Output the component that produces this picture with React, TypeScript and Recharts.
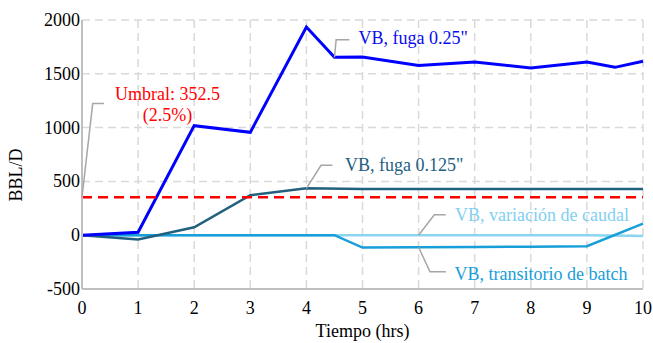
import { LineChart, Line, XAxis, YAxis, CartesianGrid, ReferenceLine, ReferenceDot } from "recharts"

// Hours since start (some series have half-hour points)
const hours = [0, 1, 2, 3, 4, 5, 6, 7, 8, 9, 10]
const fuga025Hours = [0, 1, 2, 3, 4, 4.5, 5, 6, 7, 8, 9, 9.5, 10]
const batchHours = [0, 4.5, 5, 6, 7, 8, 9, 10]

// Volume balance, BBL/D
const fuga025 = [0, 28, 1018, 956, 1935, 1653, 1656, 1578, 1610, 1554, 1610, 1560, 1616]
const fuga0125 = [0, -40, 74, 371, 436, 430, 430, 430, 430, 430, 430]
const caudal = [0, 0, 0, 0, 0, 0, 0, 0, 0, 0, -8]
const batch = [0, 0, -115, -112, -110, -107, -103, 108]

const umbral = 352.5
const xTicks = [0, 1, 2, 3, 4, 5, 6, 7, 8, 9, 10]
const yTicks = [-500, 0, 500, 1000, 1500, 2000]

const FONT = "'Liberation Serif', 'Times New Roman', serif"
const LEADER = "#a6a6a6"

const toPoints = (xs: number[], ys: number[]) => xs.map((t, i) => ({ t, v: ys[i] }))

// Axis tick text in the serif face
const XTick = ({ x, y, payload }: any) => (
  <text x={x} y={y + 23} textAnchor="middle" fill="#000" fontFamily={FONT} fontSize={18}>
    {payload.value}
  </text>
)
const YTick = ({ x, y, payload }: any) => (
  <text x={x} y={y + 6} textAnchor="end" fill="#000" fontFamily={FONT} fontSize={18}>
    {payload.value}
  </text>
)

type NoteProps = {
  cx?: number
  cy?: number
  bend: [number, number]
  end: number
  tx: number
  ty: number
  lines: string[]
  color: string
  anchor?: "start" | "middle" | "end"
}

function Note({ cx = 0, cy = 0, bend, end, tx, ty, lines, color, anchor = "start" }: NoteProps) {
  const bx = cx + bend[0]
  const by = cy + bend[1]
  return (
    <g>
      <polyline
        points={`${cx},${cy} ${bx},${by} ${cx + end},${by}`}
        fill="none"
        stroke={LEADER}
        strokeWidth={1.5}
      />
      <text x={cx + tx} y={cy + ty} fill={color} fontFamily={FONT} fontSize={18} textAnchor={anchor}>
        {lines.map((l, i) => (
          <tspan key={i} x={cx + tx} dy={i ? 21 : 0}>
            {l}
          </tspan>
        ))}
      </text>
    </g>
  )
}

const notes = [
  { x: 0, y: umbral, bend: [10.7, -93.7], end: 22, tx: 85.5, ty: -97.7, lines: ["Umbral: 352.5", "(2.5%)"], color: "#ff0000", anchor: "middle" },
  { x: fuga025Hours[5], y: fuga025[5], bend: [1.7, -17.7], end: 15, tx: 24, ty: -13.7, lines: ['VB, fuga 0.25"'], color: "#0a0af0" },
  { x: hours[4], y: fuga0125[4], bend: [14.6, -23], end: 26, tx: 38.6, ty: -17, lines: ['VB, fuga 0.125"'], color: "#22607f" },
  { x: hours[6], y: caudal[6], bend: [15.7, -20.4], end: 27.1, tx: 36.4, ty: -14, lines: ["VB, variación de caudal"], color: "#7fd0f2" },
  { x: batchHours[3], y: batch[3], bend: [11.4, 24.5], end: 27.4, tx: 36, ty: 32.5, lines: ["VB, transitorio de batch"], color: "#189ed8" },
] as const

export default function App() {
  return (
    <div style={{ position: "absolute", left: 0, top: 0, fontFamily: FONT }}>
      <LineChart width={653} height={343} margin={{ top: 20, right: 10, left: 0, bottom: 0 }}>
        <CartesianGrid stroke="#d9d9d9" strokeWidth={1.5} strokeDasharray="8 5" />
        <XAxis
          dataKey="t"
          type="number"
          domain={[0, 10]}
          ticks={xTicks}
          height={54}
          stroke="#bfbfbf"
          strokeWidth={2}
          tickLine={false}
          tickSize={0}
          tick={<XTick />}
          label={{
            content: ({ viewBox }: any) => (
              <text x={viewBox.x + viewBox.width / 2} y={337} textAnchor="middle" fill="#000" fontFamily={FONT} fontSize={18}>
                Tiempo (hrs)
              </text>
            ),
          }}
        />
        <YAxis
          type="number"
          domain={[-500, 2000]}
          ticks={yTicks}
          width={82}
          stroke="#bfbfbf"
          strokeWidth={2}
          tickLine={false}
          tickSize={0}
          tick={<YTick />}
          label={{
            content: () => (
              <text x={22} y={175} transform="rotate(-90 22 175)" textAnchor="middle" fill="#000" fontFamily={FONT} fontSize={18}>
                BBL/D
              </text>
            ),
          }}
        />
        <Line data={toPoints(hours, caudal)} dataKey="v" stroke="#8bd5f3" strokeWidth={2.5} dot={false} isAnimationActive={false} />
        <Line data={toPoints(batchHours, batch)} dataKey="v" stroke="#189ed8" strokeWidth={2.5} dot={false} isAnimationActive={false} />
        <Line data={toPoints(hours, fuga0125)} dataKey="v" stroke="#22607f" strokeWidth={2.5} dot={false} isAnimationActive={false} />
        <Line data={toPoints(fuga025Hours, fuga025)} dataKey="v" stroke="#0000ff" strokeWidth={3} dot={false} isAnimationActive={false} />
        <ReferenceLine y={umbral} stroke="#ff0000" strokeWidth={2.5} strokeDasharray="10 6" />
        {notes.map((n, i) => (
          <ReferenceDot
            key={i}
            x={n.x}
            y={n.y}
            r={0}
            shape={(p: any) => (
              <Note cx={p.cx} cy={p.cy} bend={n.bend as any} end={n.end} tx={n.tx} ty={n.ty} lines={[...n.lines]} color={n.color} anchor={(n as any).anchor} />
            )}
          />
        ))}
      </LineChart>
    </div>
  )
}
